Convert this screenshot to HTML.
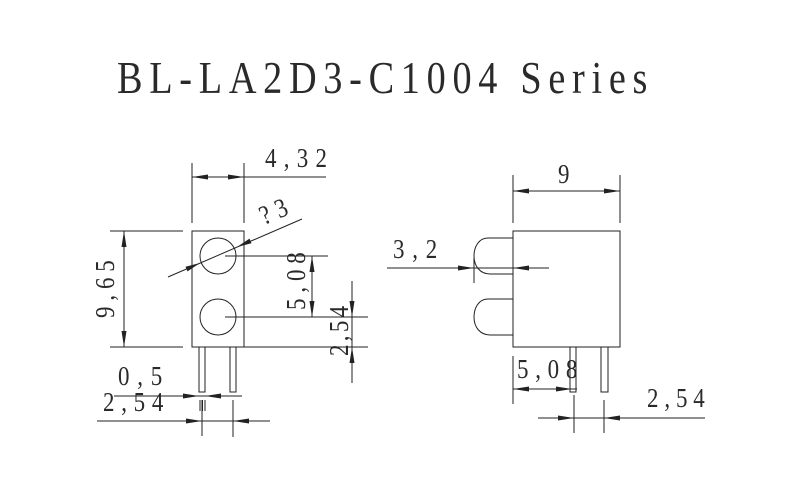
<!DOCTYPE html>
<html><head><meta charset="utf-8"><style>html,body{margin:0;padding:0;background:#fff;}svg{display:block}</style></head>
<body>
<svg width="800" height="500" viewBox="0 0 800 500" xmlns="http://www.w3.org/2000/svg">
<rect width="800" height="500" fill="#fff"/>
<g font-family="Liberation Serif, serif" fill="#2a2a2a">
<text transform="translate(117,93) scale(0.85,1)" font-size="45" textLength="624" lengthAdjust="spacing">BL-LA2D3-C1004 Series</text>
<g font-size="27">
<text transform="translate(265,167) scale(0.85,1)" textLength="73" lengthAdjust="spacing">4,32</text>
<text transform="translate(393,258) scale(0.85,1)" textLength="52" lengthAdjust="spacing">3,2</text>
<text transform="translate(558,183) scale(0.85,1)">9</text>
<text transform="translate(118,385) scale(0.85,1)" textLength="52" lengthAdjust="spacing">0,5</text>
<text transform="translate(103,411) scale(0.85,1)" textLength="71" lengthAdjust="spacing">2,54</text>
<text transform="translate(517,378) scale(0.85,1)" textLength="71" lengthAdjust="spacing">5,08</text>
<text transform="translate(647,407) scale(0.85,1)" textLength="68" lengthAdjust="spacing">2,54</text>
<text transform="translate(114,318) rotate(-90) scale(0.85,1)" textLength="68" lengthAdjust="spacing">9,65</text>
<text transform="translate(305,310) rotate(-90) scale(0.85,1)" textLength="68" lengthAdjust="spacing">5,08</text>
<text transform="translate(348,356) rotate(-90) scale(0.85,1)" textLength="59" lengthAdjust="spacing">2,54</text>
<text transform="translate(264,225) rotate(-23) scale(0.85,1)" textLength="33" lengthAdjust="spacing">?3</text>
</g>
</g>
<g stroke="#222" stroke-width="1" fill="none">
<rect x="192" y="231" width="52" height="116"/>
<circle cx="218" cy="256" r="18"/>
<circle cx="218" cy="317" r="18"/>
<rect x="199" y="347" width="6" height="45"/>
<rect x="230" y="347" width="6" height="45"/>
<line x1="192" y1="163" x2="192" y2="223"/>
<line x1="244" y1="163" x2="244" y2="223"/>
<line x1="192" y1="177" x2="326" y2="177"/>
<line x1="168" y1="277" x2="302" y2="219"/>
<line x1="110" y1="231" x2="183" y2="231"/>
<line x1="110" y1="347" x2="183" y2="347"/>
<line x1="124" y1="231" x2="124" y2="347"/>
<line x1="225" y1="256" x2="328" y2="256"/>
<line x1="225" y1="317" x2="368" y2="317"/>
<line x1="244" y1="347" x2="368" y2="347"/>
<line x1="312" y1="256" x2="312" y2="317"/>
<line x1="352" y1="281" x2="352" y2="383"/>
<line x1="114" y1="396" x2="242" y2="396"/>
<line x1="200" y1="400" x2="200" y2="411"/>
<line x1="202.5" y1="400" x2="202.5" y2="411"/>
<line x1="205" y1="400" x2="205" y2="411"/>
<line x1="97" y1="421" x2="270" y2="421"/>
<line x1="202" y1="400" x2="202" y2="436"/>
<line x1="233" y1="400" x2="233" y2="437"/>
<rect x="513" y="231" width="107" height="116"/>
<path d="M513,238 L488,238 C478,238 474,248 474,256 C474,266 480,274 490,274 L513,274"/>
<path d="M513,299 L488,299 C478,299 474,309 474,317 C474,327 480,335 490,335 L513,335"/>
<rect x="570" y="347" width="6" height="45"/>
<rect x="601" y="347" width="7" height="45"/>
<line x1="513" y1="175" x2="513" y2="223"/>
<line x1="620" y1="175" x2="620" y2="223"/>
<line x1="513" y1="191" x2="620" y2="191"/>
<line x1="387" y1="268" x2="549" y2="268"/>
<line x1="474" y1="258" x2="474" y2="283"/>
<line x1="513" y1="356" x2="513" y2="404"/>
<line x1="513" y1="389" x2="577" y2="389"/>
<line x1="538" y1="418" x2="705" y2="418"/>
<line x1="574" y1="395" x2="574" y2="433"/>
<line x1="604" y1="400" x2="604" y2="433"/>
</g>
<g fill="#222">
<polygon points="192,177 208,174.5 208,179.5"/>
<polygon points="244,177 228,174.5 228,179.5"/>
<polygon points="200,263 185.5,266.8 187.5,271.4"/>
<polygon points="237,247 251.5,243.2 249.5,238.6"/>
<polygon points="124,231 121.5,247 126.5,247"/>
<polygon points="124,347 121.5,331 126.5,331"/>
<polygon points="312,256 309.5,272 314.5,272"/>
<polygon points="312,317 309.5,301 314.5,301"/>
<polygon points="352,317 349.5,301 354.5,301"/>
<polygon points="352,347 349.5,363 354.5,363"/>
<polygon points="199,396 183,393.5 183,398.5"/>
<polygon points="205,396 221,393.5 221,398.5"/>
<polygon points="202,421 186,418.5 186,423.5"/>
<polygon points="233,421 249,418.5 249,423.5"/>
<polygon points="513,191 529,188.5 529,193.5"/>
<polygon points="620,191 604,188.5 604,193.5"/>
<polygon points="474,268 458,265.5 458,270.5"/>
<polygon points="513,268 529,265.5 529,270.5"/>
<polygon points="513,389 529,386.5 529,391.5"/>
<polygon points="572,389 556,386.5 556,391.5"/>
<polygon points="574,418 558,415.5 558,420.5"/>
<polygon points="604,418 620,415.5 620,420.5"/>
</g>
</svg>
</body></html>
